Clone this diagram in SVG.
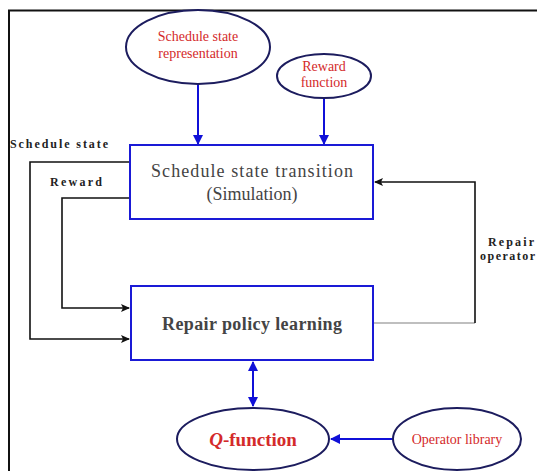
<svg xmlns="http://www.w3.org/2000/svg" width="537" height="471" viewBox="0 0 537 471">
<style>
.ell{fill:#fff;stroke:#1c1c5e;stroke-width:2}
.box{fill:#fff;stroke:#1a1ad6;stroke-width:2}
.red{fill:#d42a2a;font-family:'Liberation Serif',serif;font-size:14px;text-anchor:middle}
.lbl{fill:#222;font-family:'Liberation Serif',serif;font-size:12px;font-weight:bold}
.bt{fill:#444;font-family:'Liberation Serif',serif;font-size:18px;text-anchor:middle}
.blue{stroke:#1010d8;stroke-width:2;fill:none}
.blk{stroke:#111;stroke-width:1.6;fill:none}
</style>
<defs>
<marker id="ab" markerWidth="10" markerHeight="10" refX="9" refY="5" orient="auto" markerUnits="userSpaceOnUse">
<path d="M0,0 L10,5 L0,10 Z" fill="#1010d8"/>
</marker>
<marker id="abs" markerWidth="10" markerHeight="10" refX="9" refY="5" orient="auto-start-reverse" markerUnits="userSpaceOnUse">
<path d="M0,0 L10,5 L0,10 Z" fill="#1010d8"/>
</marker>
<marker id="ak" markerWidth="9" markerHeight="8" refX="8" refY="4" orient="auto" markerUnits="userSpaceOnUse">
<path d="M0,0 L9,4 L0,8 L2,4 Z" fill="#111"/>
</marker>
</defs>
<rect x="0" y="0" width="537" height="471" fill="#fff"/>
<path d="M9,480 V10.5 H540" fill="none" stroke="#111" stroke-width="2"/>

<g id="connectors">
<line class="blue" x1="198" y1="84" x2="198" y2="144" marker-end="url(#ab)"/>
<line class="blue" x1="324" y1="98" x2="324" y2="144" marker-end="url(#ab)"/>
<path class="blk" d="M130,162 H30 V339 H129" marker-end="url(#ak)"/>
<path class="blk" d="M130,198 H62 V308 H129" marker-end="url(#ak)"/>
<path d="M374,323 H475" stroke="#aaa" stroke-width="1.6" fill="none"/>
<path class="blk" d="M475,323 V182 H375" marker-end="url(#ak)"/>
<line class="blue" x1="253" y1="362" x2="253" y2="406" marker-start="url(#abs)" marker-end="url(#abs)"/>
<line class="blue" x1="393" y1="439" x2="331" y2="439" marker-end="url(#ab)"/>
<text class="lbl" x="10" y="148" textLength="98" lengthAdjust="spacing">Schedule state</text>
<text class="lbl" x="50" y="186" textLength="52" lengthAdjust="spacing">Reward</text>
<text class="lbl" x="488" y="246" textLength="46" lengthAdjust="spacing">Repair</text>
<text class="lbl" x="480" y="260" textLength="55" lengthAdjust="spacing">operator</text>
</g>

<g id="ssr">
<ellipse class="ell" cx="198" cy="47" rx="72" ry="37"/>
<text class="red" x="198" y="41">Schedule state</text>
<text class="red" x="198" y="58">representation</text>
</g>
<g id="rf">
<ellipse class="ell" cx="324" cy="76" rx="47" ry="22"/>
<text class="red" x="324" y="71">Reward</text>
<text class="red" x="324" y="87">function</text>
</g>
<g id="sst">
<rect class="box" x="130" y="145" width="243" height="74"/>
<text class="bt" x="252" y="177" textLength="202" lengthAdjust="spacing">Schedule state transition</text>
<text class="bt" x="252" y="200">(Simulation)</text>
</g>
<g id="rpl">
<rect class="box" x="131" y="286" width="242" height="74"/>
<text class="bt" x="252" y="330" font-weight="bold" fill="#222" textLength="180" lengthAdjust="spacing">Repair policy learning</text>
</g>
<g id="qf">
<ellipse class="ell" cx="253" cy="439" rx="76" ry="31"/>
<text x="253" y="446" text-anchor="middle" fill="#d42a2a" font-family="'Liberation Serif',serif" font-size="19" font-weight="bold"><tspan font-style="italic">Q</tspan>-function</text>
</g>
<g id="ol">
<ellipse class="ell" cx="457" cy="439" rx="64" ry="31"/>
<text class="red" x="457" y="444" font-size="14">Operator library</text>
</g>
</svg>
